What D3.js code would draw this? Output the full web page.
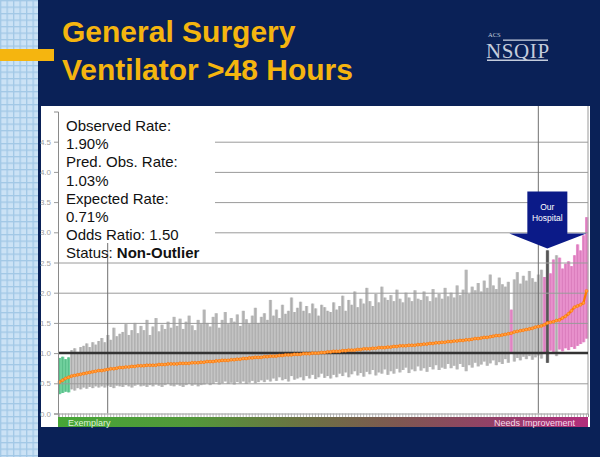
<!DOCTYPE html>
<html><head><meta charset="utf-8">
<script src="https://cdn.jsdelivr.net/npm/d3@7"></script>
<style>html,body{margin:0;padding:0;background:#0a2157;} svg{display:block}</style>
</head><body><div id="chart"></div>
<script>
const titleLines = ["General Surgery", "Ventilator >48 Hours"];
const summaryLines = ["Observed Rate:", "1.90%", "Pred. Obs. Rate:", "1.03%", "Expected Rate:", "0.71%", "Odds Ratio: 1.50"];
const statusLabel = "Status: ";
const statusValue = "Non-Outlier";
const arrowLabel = ["Our", "Hospital"];
const scaleLabels = ["Exemplary", "Needs Improvement"];
const yTicks = [0, 0.5, 1.0, 1.5, 2.0, 2.5, 3.0, 3.5, 4.0, 4.5];

const oddsRatio = [
0.52,0.55,0.58,0.60,0.62,0.63,0.64,0.65,0.66,0.67,
0.68,0.69,0.70,0.71,0.71,0.72,0.73,0.74,0.74,0.75,
0.76,0.76,0.77,0.77,0.78,0.78,0.79,0.79,0.79,0.80,
0.80,0.80,0.80,0.81,0.81,0.81,0.82,0.82,0.82,0.82,
0.83,0.83,0.83,0.83,0.84,0.84,0.84,0.85,0.85,0.86,
0.86,0.86,0.87,0.87,0.88,0.88,0.88,0.89,0.89,0.90,
0.90,0.91,0.91,0.92,0.92,0.93,0.93,0.93,0.94,0.94,
0.95,0.95,0.95,0.96,0.96,0.97,0.97,0.97,0.98,0.98,
0.98,0.99,0.99,0.99,1.00,1.00,1.00,1.01,1.01,1.02,
1.02,1.03,1.03,1.03,1.04,1.04,1.05,1.05,1.05,1.06,
1.06,1.07,1.07,1.07,1.08,1.08,1.09,1.09,1.09,1.10,
1.10,1.11,1.11,1.12,1.12,1.12,1.13,1.13,1.13,1.14,
1.14,1.15,1.15,1.16,1.16,1.17,1.17,1.18,1.18,1.19,
1.19,1.20,1.20,1.21,1.21,1.22,1.22,1.23,1.24,1.24,
1.25,1.26,1.26,1.27,1.28,1.29,1.29,1.30,1.31,1.32,
1.33,1.35,1.36,1.37,1.38,1.39,1.40,1.41,1.43,1.44,
1.45,1.47,1.50,1.51,1.52,1.54,1.55,1.58,1.61,1.65,
1.70,1.76,1.78,1.80,1.83,2.03];

const upperCI = [
0.92,0.94,0.90,0.93,1.05,1.08,1.02,1.10,1.12,1.16,
1.10,1.18,1.14,1.20,1.25,1.18,1.30,1.22,1.42,1.28,
1.32,1.35,1.48,1.30,1.38,1.50,1.33,1.45,1.38,1.55,
1.30,1.44,1.58,1.36,1.47,1.40,1.52,1.42,1.60,1.45,
1.57,1.40,1.52,1.62,1.46,1.38,1.55,1.48,1.72,1.50,
1.44,1.60,1.66,1.42,1.55,1.68,1.48,1.58,1.52,1.64,
1.45,1.70,1.56,1.48,1.62,1.75,1.50,1.60,1.66,1.55,
1.88,1.62,1.72,1.58,1.80,1.65,1.70,1.92,1.68,1.75,
1.85,1.70,1.78,1.66,1.82,1.74,1.62,1.80,1.76,1.70,
1.68,1.84,1.72,1.78,1.95,1.70,1.88,1.80,2.02,1.76,
1.90,1.82,2.08,1.86,1.78,1.98,1.84,2.10,1.92,1.88,
1.96,1.86,2.05,1.90,1.84,2.00,1.92,1.86,2.04,1.90,
1.88,2.02,1.94,1.86,2.06,1.92,1.98,1.90,2.08,1.94,
2.00,1.92,2.12,1.96,2.05,2.38,1.98,2.10,2.04,2.16,
2.02,2.20,2.08,2.30,2.12,2.06,2.25,2.14,2.10,2.18,
1.72,2.22,2.34,2.15,2.28,2.20,2.36,2.24,2.18,2.30,
2.38,2.26,2.70,2.32,2.55,2.62,2.58,2.40,2.48,2.52,
2.44,2.62,2.80,2.70,2.95,3.25];

const lowerCI = [
0.32,0.34,0.36,0.35,0.40,0.38,0.42,0.40,0.43,0.41,
0.44,0.42,0.45,0.43,0.45,0.43,0.46,0.44,0.42,0.46,
0.45,0.44,0.47,0.45,0.43,0.46,0.48,0.45,0.46,0.44,
0.47,0.45,0.48,0.46,0.44,0.47,0.49,0.46,0.45,0.48,
0.46,0.44,0.47,0.49,0.46,0.48,0.45,0.47,0.48,0.50,
0.47,0.49,0.52,0.48,0.50,0.53,0.49,0.51,0.48,0.52,
0.50,0.53,0.49,0.51,0.54,0.50,0.52,0.55,0.52,0.56,
0.53,0.58,0.54,0.60,0.55,0.57,0.53,0.62,0.56,0.58,
0.60,0.55,0.62,0.58,0.64,0.57,0.60,0.66,0.59,0.62,
0.58,0.64,0.60,0.66,0.62,0.68,0.60,0.65,0.70,0.63,
0.67,0.61,0.69,0.65,0.72,0.63,0.68,0.66,0.73,0.64,
0.70,0.66,0.74,0.68,0.72,0.76,0.67,0.73,0.70,0.78,
0.71,0.75,0.69,0.77,0.73,0.80,0.72,0.76,0.74,0.82,
0.75,0.79,0.73,0.82,0.77,0.70,0.80,0.76,0.84,0.78,
0.81,0.86,0.79,0.83,0.88,0.80,0.85,0.82,0.90,0.84,
1.02,0.86,0.92,0.88,0.94,0.90,0.95,0.89,0.93,0.96,
0.91,1.01,0.84,1.04,1.02,0.95,1.06,1.03,1.08,1.05,
1.10,1.07,1.12,1.15,1.18,1.24];

const ourHospital = 162;
const percentileHospitals = [16, 159];

const W = 600, H = 457;
const N = oddsRatio.length;
const svg = d3.select("#chart").append("svg").attr("width", W).attr("height", H);
const defs = svg.append("defs");
const SANS = "Liberation Sans, Arial, sans-serif";

svg.append("rect").attr("width", W).attr("height", H).attr("fill", "#0a2157");

// left patterned strip
const pat = defs.append("pattern").attr("id", "grid").attr("width", 6.5).attr("height", 6.5)
  .attr("patternUnits", "userSpaceOnUse");
pat.append("rect").attr("width", 6.5).attr("height", 6.5).attr("fill", "#a2c8e6");
pat.append("rect").attr("x", 1.3).attr("y", 1.3).attr("width", 5.2).attr("height", 5.2).attr("fill", "#cbe2f5");
svg.append("rect").attr("x", 0).attr("y", 0).attr("width", 38).attr("height", H).attr("fill", "url(#grid)");
svg.append("rect").attr("x", 0).attr("y", 49).attr("width", 54).attr("height", 12).attr("fill", "#f5b50f");

// title
svg.append("g").selectAll("text").data(titleLines).join("text")
  .attr("x", 62).attr("y", (d, i) => 42 + i * 38)
  .attr("font-family", SANS).attr("font-weight", "bold")
  .attr("font-size", 30).attr("fill", "#f5b50f").text(d => d);

// logo
const logo = svg.append("g").attr("fill", "#c4ccdc");
logo.append("text").attr("x", 488).attr("y", 37).attr("font-family", "Liberation Serif, serif")
  .attr("font-size", 6.5).text("ACS");
logo.append("rect").attr("x", 503).attr("y", 39.5).attr("width", 45).attr("height", 1.3);
logo.append("text").attr("x", 486).attr("y", 58).attr("font-family", "Liberation Serif, serif")
  .attr("font-size", 21).attr("letter-spacing", 0.6).text("NSQIP");
logo.append("rect").attr("x", 487).attr("y", 59.5).attr("width", 61).attr("height", 1.5);

// white panel
svg.append("rect").attr("x", 41).attr("y", 106).attr("width", 549).attr("height", 321).attr("fill", "#ffffff");

const x = d3.scaleBand().domain(d3.range(N)).range([58, 588]).padding(0);
const bw = x.bandwidth();
const y = d3.scaleLinear().domain([0, 5]).range([413.5, 111.5]);

// bars
const colorOf = i => i === ourHospital ? "#7a7a7a" : (upperCI[i] < 1 ? "#6fcf9c" : (lowerCI[i] > 1 ? "#e891cc" : "#c2c2c2"));
const lineOf = i => i === ourHospital ? "#555" : (upperCI[i] < 1 ? "#52b884" : (lowerCI[i] > 1 ? "#d676b8" : "#a0a0a0"));
const bars = svg.append("g");
bars.selectAll("rect").data(d3.range(N)).join("rect")
  .attr("x", i => x(i)).attr("width", bw + 0.3)
  .attr("y", i => y(upperCI[i])).attr("height", i => y(lowerCI[i]) - y(upperCI[i]))
  .attr("fill", colorOf);
bars.selectAll("line").data(d3.range(N)).join("line")
  .attr("x1", i => x(i) + bw / 2).attr("x2", i => x(i) + bw / 2)
  .attr("y1", i => y(upperCI[i])).attr("y2", i => y(lowerCI[i]))
  .attr("stroke", lineOf).attr("stroke-width", i => i === ourHospital ? 2 : 0.7);

// gridlines
const grid = svg.append("g").attr("transform", "translate(58,0)")
  .call(d3.axisLeft(y).tickValues(yTicks.filter(v => v > 0 && v !== 1)).tickSize(-530).tickFormat(""));
grid.select(".domain").remove();
grid.selectAll("line").attr("stroke", "#9a9a9a").attr("stroke-width", 1);

// percentile verticals
svg.append("g").selectAll("line").data(percentileHospitals).join("line")
  .attr("x1", i => x(i) + bw / 2).attr("x2", i => x(i) + bw / 2)
  .attr("y1", 106).attr("y2", 413.5).attr("stroke", "#707070").attr("stroke-width", 1);
svg.append("line").attr("x1", 588).attr("x2", 588).attr("y1", 106).attr("y2", 414)
  .attr("stroke", "#9a9a9a").attr("stroke-width", 1);

// reference line at 1.0
svg.append("line").attr("x1", 58).attr("x2", 588).attr("y1", y(1)).attr("y2", y(1))
  .attr("stroke", "#333").attr("stroke-width", 2.5);

// orange line
svg.append("path").datum(d3.range(N))
  .attr("d", d3.line().x(i => x(i) + bw / 2).y(i => y(oddsRatio[i])))
  .attr("fill", "none").attr("stroke", "#ff7a00").attr("stroke-width", 2.2);
svg.append("g").selectAll("circle").data(d3.range(N)).join("circle")
  .attr("cx", i => x(i) + bw / 2).attr("cy", i => y(oddsRatio[i])).attr("r", 1.5)
  .attr("fill", "#ffa040").attr("stroke", "#ff7000").attr("stroke-width", 0.5);

// y axis
const yAxis = svg.append("g").attr("transform", "translate(58,0)")
  .call(d3.axisLeft(y).tickValues(yTicks).tickSize(4).tickFormat(d3.format(".1f")));
yAxis.select(".domain").attr("stroke", "#8a8a8a");
yAxis.selectAll("line").attr("stroke", "#9a9a9a");
yAxis.selectAll("text").attr("fill", "#a0a0a0").attr("font-size", 8).attr("font-family", SANS);

// bottom scale bar
const grad = defs.append("linearGradient").attr("id", "scale").attr("x1", "0").attr("x2", "1");
[["0", "#46a636"], ["0.25", "#52983a"], ["0.45", "#6a7442"], ["0.65", "#7e5652"], ["0.82", "#934068"], ["1", "#b12e7c"]]
  .forEach(s => grad.append("stop").attr("offset", s[0]).attr("stop-color", s[1]));
svg.append("rect").attr("x", 58).attr("y", 417).attr("width", 530).attr("height", 10).attr("fill", "url(#scale)");
const xAxis = svg.append("g").attr("transform", "translate(0,413.5)")
  .call(d3.axisBottom(x).tickSize(3.5).tickFormat(""));
xAxis.select(".domain").attr("stroke", "#9a9a9a");
xAxis.selectAll("line").attr("stroke", "#a8a8a8").attr("stroke-width", 0.8);
svg.append("text").attr("x", 68).attr("y", 425.5).attr("font-size", 9)
  .attr("font-family", SANS).attr("fill", "#dff2d6").text(scaleLabels[0]);
svg.append("text").attr("x", 575).attr("y", 425.5).attr("font-size", 9).attr("text-anchor", "end")
  .attr("font-family", SANS).attr("fill", "#f6dcec").text(scaleLabels[1]);

// summary text box
svg.append("rect").attr("x", 59).attr("y", 106).attr("width", 156).attr("height", 137).attr("fill", "#ffffff");
const tb = svg.append("g").attr("font-family", SANS).attr("font-size", 15).attr("fill", "#111");
tb.selectAll("text").data(summaryLines).join("text")
  .attr("x", 66).attr("y", (d, i) => 131 + i * 18.2).text(d => d);
const st = tb.append("text").attr("x", 66).attr("y", 131 + 7 * 18.2);
st.append("tspan").text(statusLabel);
st.append("tspan").attr("font-weight", "bold").text(statusValue);

// our hospital arrow
const ax = x(ourHospital) + bw / 2;
const ay = y(upperCI[ourHospital]) - 2;
svg.append("path")
  .attr("d", `M${ax},${ay} L${ax - 38},${ay - 15} L${ax - 20},${ay - 15} L${ax - 20},${ay - 57} L${ax + 20},${ay - 57} L${ax + 20},${ay - 15} L${ax + 39},${ay - 15} Z`)
  .attr("fill", "#0b1a88");
svg.append("g").selectAll("text").data(arrowLabel).join("text")
  .attr("x", ax).attr("y", (d, i) => ay - 38 + i * 11).attr("text-anchor", "middle")
  .attr("font-family", SANS).attr("font-size", 8.5).attr("fill", "#ffffff")
  .text(d => d);
</script>
</body></html>
